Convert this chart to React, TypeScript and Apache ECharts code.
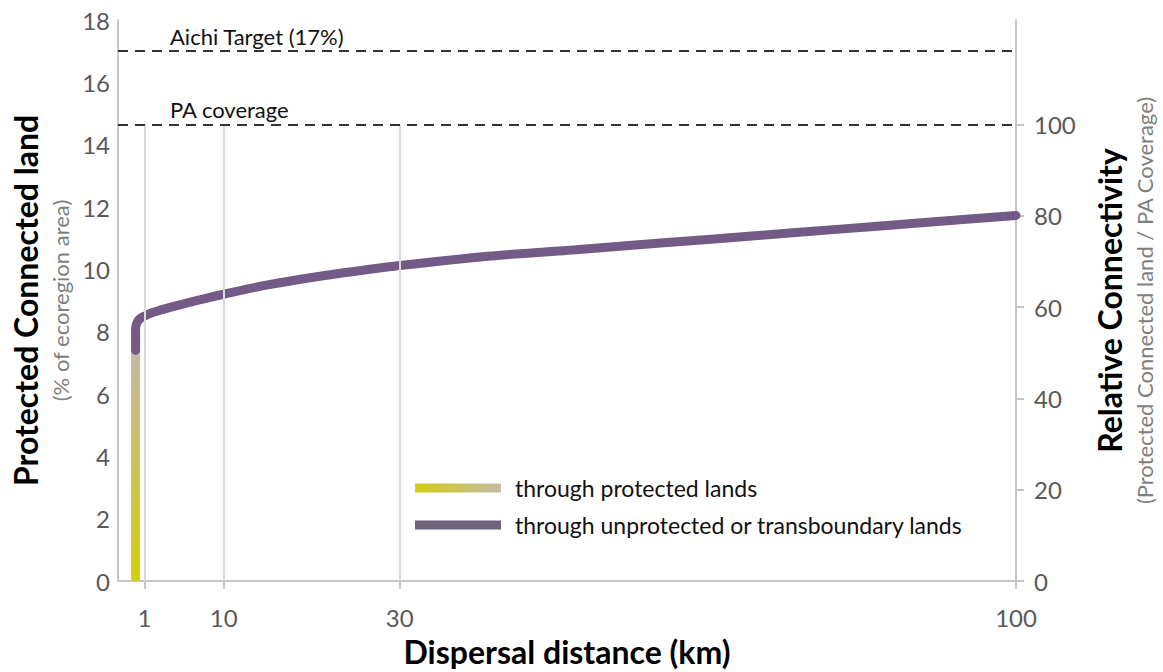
import React, { useEffect, useRef } from 'react';
import * as echarts from 'echarts';

// Dispersal distance (km) vs protected connected land (% of ecoregion area)
const protectedDistance = [0, 0];
const protectedLand = [0, 7.4];

const distance = [0, 0, 0.1, 0.3, 0.6, 1, 2, 4, 6, 8, 10, 15, 20, 25, 30, 40, 50, 60, 70, 80, 90, 100];
const connectedLand = [7.4, 8.1, 8.25, 8.36, 8.44, 8.5, 8.62, 8.79, 8.93, 9.07, 9.2, 9.5, 9.74, 9.94, 10.12, 10.42, 10.63, 10.85, 11.07, 11.29, 11.51, 11.73];

const xTickValues = [1, 10, 30, 100];
const gridLineDistances = [1, 10, 30];
const rightTickValues = [0, 20, 40, 60, 80, 100];

const aichiTarget = 17;
const paCoverage = 14.65;
const leftMax = 18;

const seriesNames = ['through protected lands', 'through unprotected or transboundary lands'];
const referenceLabels = ['Aichi Target (17%)', 'PA coverage'];

const FONT = 'Lato';
const AXIS_GRAY = '#c6c6c6';
const LABEL_GRAY = '#595959';

export default function App() {
  const ref = useRef<HTMLDivElement>(null);

  useEffect(() => {
    document.body.style.margin = '0';
    if (!ref.current) return;
    const chart = echarts.init(ref.current, undefined, { renderer: 'svg' });

    const axisLine = { show: true, onZero: false, lineStyle: { color: AXIS_GRAY, width: 2 } };
    const axisLabel = { fontSize: 24, color: LABEL_GRAY, fontFamily: FONT };

    const option: any = {
      animation: false,
      textStyle: { fontFamily: FONT },
      grid: { left: 118, right: 143, top: 20, bottom: 90 },
      visualMap: {
        type: 'continuous',
        show: false,
        seriesIndex: 0,
        dimension: 1,
        min: 0,
        max: protectedLand[1],
        inRange: { color: ['#d4cf0c', '#c2b9a6'] },
      },
      legend: {
        orient: 'vertical',
        left: 415,
        top: 474,
        padding: 0,
        itemWidth: 86,
        itemHeight: 9,
        itemGap: 9,
        icon: 'rect',
        selectedMode: false,
        textStyle: { fontSize: 23, lineHeight: 28, color: '#111', fontFamily: FONT, padding: [0, 0, 0, 9] },
        data: [
          {
            name: seriesNames[0],
            itemStyle: {
              color: new echarts.graphic.LinearGradient(0, 0, 1, 0, [
                { offset: 0, color: '#d2cd14' },
                { offset: 1, color: '#c4bba8' },
              ]),
            },
          },
          { name: seriesNames[1], itemStyle: { color: '#6d6479' } },
        ],
      },
      xAxis: {
        type: 'value',
        min: -2,
        max: 100,
        axisLine,
        axisTick: { show: true, customValues: xTickValues, length: 8, lineStyle: { color: AXIS_GRAY, width: 2 } },
        axisLabel: { ...axisLabel, customValues: xTickValues, margin: 24 },
        splitLine: { show: false },
        name: 'Dispersal distance (km)',
        nameLocation: 'middle',
        nameGap: 54,
        nameTextStyle: { fontSize: 32, fontWeight: 'bold', color: '#000', fontFamily: FONT },
      },
      yAxis: [
        {
          type: 'value',
          min: 0,
          max: leftMax,
          interval: 2,
          position: 'left',
          axisLine,
          axisTick: { show: false },
          axisLabel: { ...axisLabel, margin: 8 },
          splitLine: { show: false },
          name: '{a|Protected Connected land}\n{b|(% of ecoregion area)}',
          nameLocation: 'middle',
          nameRotate: 90,
          nameGap: 40,
          nameTextStyle: {
            rich: {
              a: { fontSize: 32, fontWeight: 'bold', color: '#000', fontFamily: FONT, lineHeight: 38 },
              b: { fontSize: 22, color: '#7f7f7f', fontFamily: FONT, lineHeight: 32 },
            },
          },
        },
        {
          type: 'value',
          min: 0,
          max: (leftMax * 100) / paCoverage,
          position: 'right',
          axisLine,
          axisTick: { show: true, customValues: rightTickValues, length: 8, lineStyle: { color: AXIS_GRAY, width: 2 } },
          axisLabel: { ...axisLabel, customValues: rightTickValues, margin: 18 },
          splitLine: { show: false },
          name: '{a|Relative Connectivity}\n{b|(Protected Connected land / PA Coverage)}',
          nameLocation: 'middle',
          nameRotate: 90,
          nameGap: 74,
          nameTextStyle: {
            rich: {
              a: { fontSize: 32, fontWeight: 'bold', color: '#000', fontFamily: FONT, lineHeight: 38 },
              b: { fontSize: 22, color: '#7f7f7f', fontFamily: FONT, lineHeight: 32 },
            },
          },
        },
      ],
      series: [
        {
          name: seriesNames[0],
          type: 'line',
          z: 2,
          showSymbol: false,
          data: protectedDistance.map((d, i) => [d, protectedLand[i]]),
          lineStyle: { width: 9 },
          itemStyle: { color: '#c4bba8' },
          markLine: {
            silent: true,
            symbol: ['none', 'none'],
            label: { show: false },
            lineStyle: { color: '#dadada', width: 2, type: 'solid' },
            data: gridLineDistances.map((d) => [{ coord: [d, 0] }, { coord: [d, paCoverage] }]),
          },
        },
        {
          name: seriesNames[1],
          type: 'line',
          z: 3,
          showSymbol: false,
          smooth: 0.3,
          data: distance.map((d, i) => [d, connectedLand[i]]),
          lineStyle: { width: 9, color: '#745a87', cap: 'round' },
          itemStyle: { color: '#745a87' },
          markLine: {
            silent: true,
            symbol: ['none', 'none'],
            lineStyle: { type: [10, 7], color: '#333', width: 2 },
            label: {
              position: 'insideStartTop',
              distance: [52, 4],
              fontSize: 22,
              color: '#111',
              fontFamily: FONT,
            },
            data: [
              { yAxis: aichiTarget, label: { formatter: referenceLabels[0] } },
              { yAxis: paCoverage, label: { formatter: referenceLabels[1] } },
            ],
          },
        },
      ],
    };

    chart.setOption(option);
    return () => chart.dispose();
  }, []);

  return <div ref={ref} style={{ width: 1163, height: 672 }} />;
}
